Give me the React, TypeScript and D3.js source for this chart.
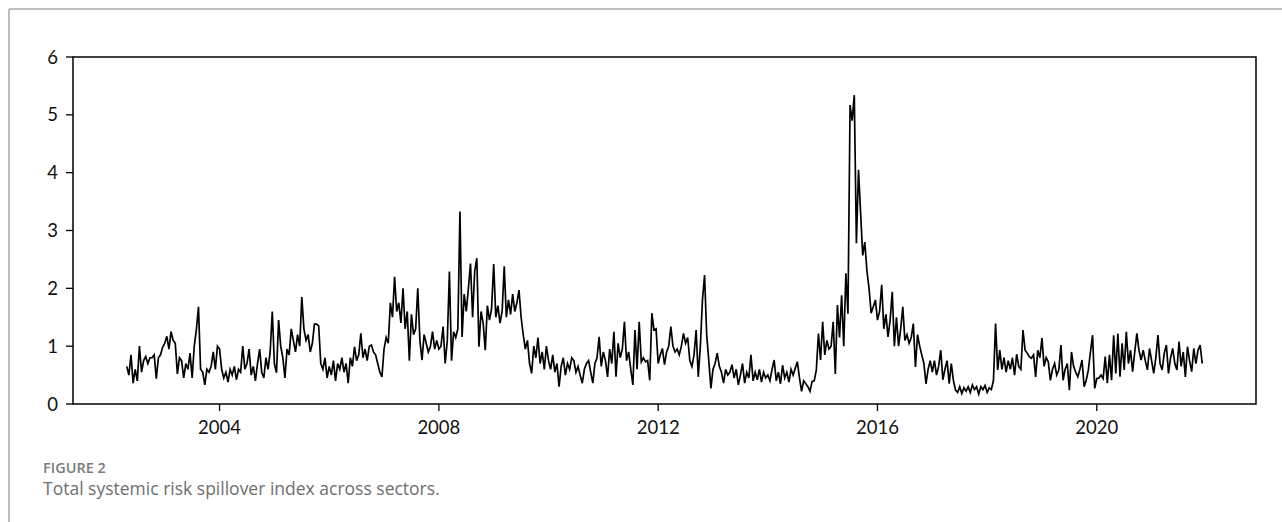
import React from "react";
import * as d3 from "d3";

// Biweekly readings (26 per year); 2002 starts at the 9th slot of the year
const v2002 = [0.65,0.5,0.85,0.36,0.6,0.4,1.0,0.55,0.75,0.82,0.7,0.8,0.8,0.85,0.44,0.8,0.85,0.98];
const v2003 = [1.05,1.17,0.95,1.25,1.1,1.05,0.52,0.8,0.75,0.45,0.7,0.6,0.88,0.45,1.0,1.28,1.68,0.6,0.55,0.33,0.6,0.55,0.65,0.9,0.6,1.0];
const v2004 = [0.95,0.6,0.45,0.55,0.38,0.6,0.5,0.65,0.42,0.6,0.55,1.0,0.6,0.7,0.95,0.5,0.65,0.4,0.7,0.95,0.55,0.45,0.8,0.6,0.9,1.6];
const v2005 = [0.7,0.54,1.45,1.0,0.8,0.45,0.95,0.85,1.3,1.1,0.9,1.2,1.0,1.85,1.3,1.1,1.2,0.9,1.05,1.38,1.38,1.35,0.7,0.6,0.8,0.45];
const v2006 = [0.65,0.5,0.75,0.4,0.7,0.6,0.8,0.55,0.7,0.36,0.8,0.65,0.99,0.75,0.85,1.22,0.8,0.95,0.75,1.0,1.02,0.9,0.85,0.7,0.55,0.47];
const v2007 = [0.95,1.15,1.05,1.75,1.5,2.2,1.6,1.75,1.4,2.0,1.3,1.6,0.75,1.55,1.2,1.3,2.0,1.1,0.76,1.2,1.05,0.9,1.0,1.25,0.95,1.1];
const v2008 = [0.95,1.0,1.34,0.7,1.1,2.29,0.75,1.25,1.15,1.3,3.33,1.16,1.9,1.6,2.0,2.43,1.5,2.3,2.52,0.99,1.6,1.4,0.93,1.7,1.45,1.65];
const v2009 = [2.42,1.5,1.7,1.4,1.6,2.38,1.5,1.8,1.55,1.9,1.6,1.75,1.97,1.5,1.2,0.95,1.1,0.7,0.53,1.0,0.8,1.15,0.7,0.9,0.6,1.0];
const v2010 = [0.75,0.6,0.85,0.55,0.7,0.3,0.65,0.8,0.5,0.7,0.6,0.8,0.75,0.55,0.65,0.5,0.36,0.6,0.7,0.75,0.55,0.36,0.7,0.8,1.16,0.65];
const v2011 = [0.9,0.75,0.47,0.95,0.7,1.25,0.47,1.05,0.8,0.95,1.42,0.75,0.9,0.6,0.33,1.28,0.6,1.42,0.73,0.8,0.73,0.75,0.41,1.57,1.28,1.3];
const v2012 = [0.7,0.85,0.96,0.68,0.9,1.0,1.34,1.0,0.9,0.95,0.85,1.0,1.22,1.05,1.15,0.75,0.65,0.85,1.28,0.47,1.0,1.8,2.23,1.2,0.75,0.27];
const v2013 = [0.6,0.7,0.88,0.65,0.55,0.36,0.6,0.5,0.55,0.68,0.45,0.6,0.33,0.5,0.7,0.36,0.55,0.45,0.85,0.4,0.55,0.42,0.6,0.38,0.55,0.45];
const v2014 = [0.5,0.4,0.6,0.76,0.4,0.55,0.35,0.67,0.45,0.55,0.38,0.6,0.5,0.62,0.73,0.45,0.22,0.4,0.35,0.3,0.22,0.39,0.4,0.59,1.22,0.76];
const v2015 = [1.42,0.85,1.1,0.95,1.0,1.42,0.52,1.71,1.15,1.88,1.0,2.26,1.56,5.17,4.9,5.34,2.78,4.05,3.3,2.57,2.8,2.3,2.0,1.57,1.68,1.8];
const v2016 = [1.45,1.6,2.06,1.3,1.55,1.16,1.45,1.94,1.0,1.5,1.0,1.3,1.68,1.1,1.2,1.05,1.15,1.39,0.64,1.2,1.0,0.85,0.7,0.35,0.6,0.75];
const v2017 = [0.55,0.75,0.5,0.65,0.93,0.42,0.6,0.75,0.35,0.7,0.41,0.24,0.2,0.3,0.18,0.28,0.22,0.3,0.2,0.33,0.25,0.3,0.17,0.3,0.25,0.32];
const v2018 = [0.2,0.28,0.25,0.41,1.39,0.59,0.93,0.6,0.8,0.55,0.75,0.6,0.8,0.5,0.86,0.65,0.6,1.28,0.93,0.88,0.82,0.79,0.85,0.47,0.93,0.8];
const v2019 = [1.14,0.65,0.8,0.73,0.41,0.6,0.7,0.5,0.59,1.02,0.41,0.6,0.7,0.24,0.9,0.65,0.55,0.47,0.6,0.76,0.3,0.41,0.59,0.9,1.19,0.27];
const v2020 = [0.44,0.45,0.5,0.44,0.82,0.36,0.85,0.41,1.19,0.53,1.22,0.47,1.05,0.59,1.25,0.7,0.93,0.56,0.9,1.22,0.93,0.76,0.93,0.75,0.59,0.96];
const v2021 = [0.75,0.53,0.8,1.19,0.7,0.59,0.88,1.02,0.53,0.8,0.96,0.7,0.59,1.08,0.65,0.9,0.47,0.99,0.75,0.56,0.96,0.7,0.93,1.02,0.7];

const yearSeries: [number, number[], number][] = [
  [2002, v2002, 8], [2003, v2003, 0], [2004, v2004, 0], [2005, v2005, 0],
  [2006, v2006, 0], [2007, v2007, 0], [2008, v2008, 0], [2009, v2009, 0],
  [2010, v2010, 0], [2011, v2011, 0], [2012, v2012, 0], [2013, v2013, 0],
  [2014, v2014, 0], [2015, v2015, 0], [2016, v2016, 0], [2017, v2017, 0],
  [2018, v2018, 0], [2019, v2019, 0], [2020, v2020, 0], [2021, v2021, 0],
];
const STEPS_PER_YEAR = 26;

const xTicks = [2004, 2008, 2012, 2016, 2020];
const yTicks = [0, 1, 2, 3, 4, 5, 6];
const captionLabel = "FIGURE 2";
const captionText = "Total systemic risk spillover index across sectors.";

type Pt = { t: number; v: number };
const data: Pt[] = [];
yearSeries.forEach(([yr, vals, off]) => {
  vals.forEach((v, i) => data.push({ t: yr + (i + off) / STEPS_PER_YEAR, v }));
});

const W = 1282, H = 522;
const L = 73, R = 1256, T = 57, B = 404;

export default function App() {
  const [t0, t1] = d3.extent(data, (d) => d.t) as [number, number];
  const pad = (t1 - t0) * 0.05;
  const x = d3.scaleLinear().domain([t0 - pad, t1 + pad]).range([L, R]);
  const y = d3.scaleLinear().domain([0, 6]).range([B, T]);
  const line = d3.line<Pt>().x((d) => x(d.t)).y((d) => y(d.v));
  const font = "Lato, 'Open Sans', sans-serif";
  return (
    <svg width={W} height={H} style={{ position: "absolute", left: 0, top: 0, background: "#fff" }}>
      <line x1={9} y1={9} x2={W} y2={9} stroke="#a8a8a8" strokeWidth={1.5} />
      <line x1={9} y1={9} x2={9} y2={H} stroke="#a8a8a8" strokeWidth={1.5} />
      <path d={line(data) || ""} fill="none" stroke="#000" strokeWidth={1.7} strokeLinejoin="miter" />
      <rect x={L} y={T} width={R - L} height={B - T} fill="none" stroke="#000" strokeWidth={1.5} />
      {yTicks.map((t) => (
        <g key={"y" + t}>
          <line x1={L - 7} x2={L} y1={y(t)} y2={y(t)} stroke="#000" strokeWidth={1.3} />
          <text x={L - 15} y={y(t)} dy="0.36em" textAnchor="end" fontFamily={font} fontSize={18.5} fill="#111">
            {t}
          </text>
        </g>
      ))}
      {xTicks.map((t) => (
        <g key={"x" + t}>
          <line x1={x(t)} x2={x(t)} y1={B} y2={B + 7} stroke="#000" strokeWidth={1.3} />
          <text x={x(t)} y={434} textAnchor="middle" fontFamily={font} fontSize={18.5} fill="#111">
            {t}
          </text>
        </g>
      ))}
      <text x={43} y={473} fontFamily="'Open Sans', sans-serif" fontSize={14.5} fontWeight={600} fill="#7a7a7a">
        {captionLabel}
      </text>
      <text x={43} y={495} fontFamily="'Open Sans', sans-serif" fontSize={17.5} fill="#6e6e6e">
        {captionText}
      </text>
    </svg>
  );
}
